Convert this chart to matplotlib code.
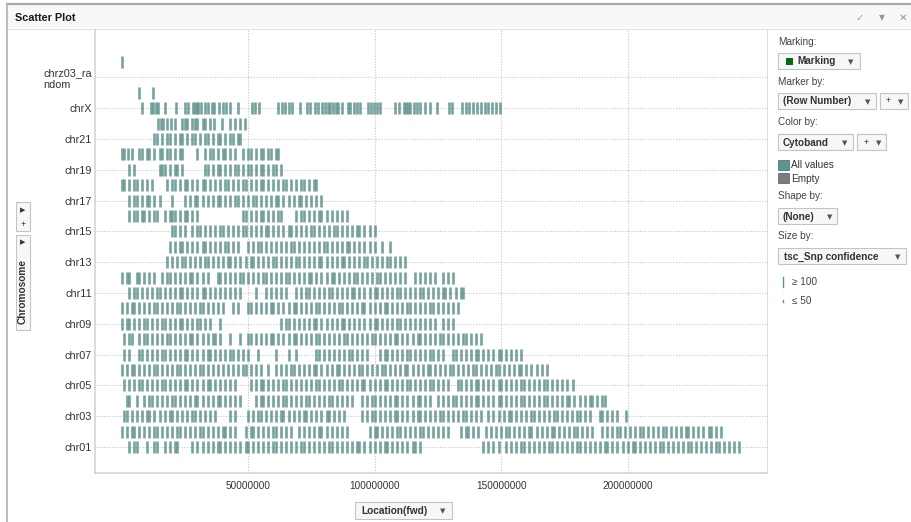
import numpy as np
import matplotlib
matplotlib.use("Agg")
import matplotlib.pyplot as plt
from matplotlib.patches import Rectangle

plt.rcParams['font.family'] = ['Liberation Sans', 'DejaVu Sans']

# chromosome categories, bottom to top
categories = ['chr01', 'chr02', 'chr03', 'chr04', 'chr05', 'chr06', 'chr07', 'chr08',
              'chr09', 'chr10', 'chr11', 'chr12', 'chr13', 'chr14', 'chr15', 'chr16',
              'chr17', 'chr18', 'chr19', 'chr20', 'chr21', 'chr22', 'chrX', 'chrY',
              'chrz03_ra\nndom', 'chrz_random']

# SNP locations per chromosome, in Mb
chr01 = [3, 5, 6, 10, 13, 14, 17, 19, 21, 22, 28, 30, 32, 34, 36, 38, 39, 41, 43, 45, 47, 49, 50, 52,
         54, 56, 58, 60, 61, 63, 65, 67, 69, 71, 72, 74, 76, 78, 80, 82, 83, 85, 87, 89, 91, 93, 94,
         96, 98, 100, 102, 104, 105, 107, 109, 111, 113, 115, 116, 118, 143, 145, 147, 149, 152,
         154, 156, 158, 159, 161, 163, 165, 167, 169, 170, 172, 174, 176, 178, 180, 181, 183, 185,
         187, 189, 191, 192, 194, 196, 198, 200, 202, 203, 205, 207, 209, 211, 213, 214, 216, 218,
         220, 222, 224, 225, 227, 229, 231, 233, 235, 236, 238, 240, 242, 244]
chr02 = [0, 2, 4, 5, 7, 9, 11, 13, 14, 16, 18, 20, 22, 23, 25, 27, 29, 31, 32, 34, 36, 38, 40, 41,
         43, 45, 49, 51, 52, 54, 56, 58, 60, 61, 63, 65, 67, 70, 72, 74, 76, 78, 79, 81, 83, 85, 87,
         89, 98, 100, 101, 103, 105, 107, 109, 110, 112, 114, 116, 118, 119, 121, 123, 125, 127,
         129, 134, 136, 137, 139, 141, 144, 146, 148, 150, 152, 153, 155, 157, 159, 161, 162, 164,
         166, 168, 170, 171, 173, 175, 177, 179, 180, 182, 184, 186, 190, 192, 194, 196, 197, 199,
         201, 203, 205, 206, 208, 210, 212, 214, 215, 217, 219, 221, 223, 224, 226, 228, 230, 232,
         233, 235, 237]
chr03 = [1, 2, 4, 6, 8, 10, 11, 13, 15, 17, 19, 20, 22, 24, 26, 28, 29, 31, 33, 35, 37, 43, 45, 50,
         52, 54, 55, 57, 59, 61, 63, 64, 66, 68, 70, 72, 73, 75, 77, 79, 81, 82, 84, 86, 88, 95, 97,
         99, 100, 102, 104, 106, 108, 109, 111, 113, 115, 117, 118, 120, 122, 124, 126, 127, 129,
         131, 133, 135, 136, 138, 140, 142, 145, 147, 149, 151, 153, 154, 156, 158, 160, 162, 163,
         165, 167, 169, 171, 172, 174, 176, 178, 180, 181, 183, 185, 189, 190, 192, 194, 196, 199.5]
chr04 = [2, 3, 6, 9, 11, 12, 14, 16, 18, 20, 21, 23, 25, 27, 29, 30, 32, 34, 36, 38, 39, 41, 43, 45,
         47, 53, 55, 56, 58, 60, 62, 64, 65, 67, 69, 71, 73, 74, 76, 78, 80, 82, 83, 85, 87, 89, 91,
         95, 97, 99, 100, 102, 104, 106, 108, 109, 111, 113, 115, 117, 118, 120, 122, 125, 127, 129,
         131, 132, 134, 136, 138, 140, 141, 143, 145, 147, 149, 150, 152, 154, 156, 158, 159, 161,
         163, 165, 167, 168, 170, 172, 174, 176, 177, 179, 181, 183, 185, 186, 188, 190, 191]
chr05 = [1, 3, 5, 7, 8, 10, 12, 14, 16, 17, 19, 21, 23, 25, 26, 28, 30, 32, 34, 35, 37, 39, 41, 43,
         45, 51, 53, 55, 56, 58, 60, 62, 64, 65, 67, 69, 71, 73, 75, 77, 78, 80, 82, 84, 86, 87, 89,
         91, 93, 95, 96, 98, 100, 102, 104, 105, 107, 109, 111, 113, 114, 116, 118, 120, 122, 123,
         125, 127, 129, 133, 134, 136, 138, 140, 141, 143, 145, 147, 149, 150, 152, 154, 156, 158,
         159, 161, 163, 165, 167, 168, 170, 172, 174, 176, 178.5]
chr06 = [0, 2, 4, 5, 7, 9, 11, 13, 14, 16, 18, 20, 22, 23, 25, 27, 29, 31, 32, 34, 36, 38, 40, 42,
         44, 46, 48, 49, 51, 53, 55, 58, 61, 63, 65, 67, 68, 70, 72, 74, 76, 77, 79, 81, 83, 85, 86,
         88, 90, 92, 94, 95, 97, 99, 101, 103, 104, 106, 108, 110, 112, 113, 115, 117, 119, 121,
         122, 124, 126, 128, 130, 131, 133, 135, 137, 139, 140, 142, 144, 146, 148, 149, 151, 153,
         155, 157, 158, 160, 162, 164, 166, 168]
chr07 = [1, 3, 7, 8, 10, 12, 14, 16, 17, 19, 21, 23, 25, 26, 28, 30, 32, 34, 35, 37, 39, 41, 43, 44,
         46, 48, 50, 54, 61, 66, 69, 77, 78, 80, 82, 84, 86, 88, 90, 91, 93, 95, 97, 102, 104, 105,
         107, 109, 111, 113, 114, 116, 118, 120, 122, 123, 125, 127, 131, 132, 134, 136, 138, 140,
         141, 143, 145, 147, 149, 150, 152, 154, 156, 158]
chr08 = [1, 3, 4, 7, 9, 10, 12, 14, 16, 18, 19, 21, 23, 25, 27, 28, 30, 32, 34, 36, 37, 39, 43, 47,
         50, 51, 53, 55, 57, 59, 60, 62, 64, 66, 68, 69, 71, 73, 75, 77, 78, 80, 82, 84, 86, 88, 89,
         91, 93, 95, 97, 99, 100, 102, 104, 106, 108, 109, 111, 113, 115, 117, 118, 120, 122, 124,
         126, 127, 129, 131, 133, 135, 136, 138, 140, 142]
chr09 = [0, 2, 3, 5, 7, 9, 10, 12, 14, 16, 17, 19, 21, 23, 24, 26, 28, 30, 31, 33, 35, 39, 63, 65,
         66, 68, 70, 72, 74, 76, 77, 79, 81, 83, 85, 87, 88, 90, 92, 94, 96, 98, 100, 101, 103, 105,
         107, 109, 110, 112, 114, 116, 118, 120, 122, 124, 127, 129, 131]
chr10 = [0, 2, 4, 5, 7, 9, 11, 13, 14, 16, 18, 20, 22, 23, 25, 27, 29, 31, 32, 34, 36, 38, 40, 44,
         46, 50, 51, 53, 55, 57, 59, 60, 62, 64, 66, 68, 69, 71, 73, 75, 77, 78, 80, 82, 84, 86, 87,
         89, 91, 93, 95, 96, 98, 100, 102, 104, 105, 107, 109, 111, 113, 114, 116, 118, 120, 122,
         123, 125, 127, 129, 131, 133]
chr11 = [3, 5, 6, 8, 10, 12, 14, 15, 17, 19, 21, 23, 24, 26, 28, 30, 32, 33, 35, 37, 39, 41, 43, 45,
         47, 53, 57, 59, 61, 63, 65, 69, 71, 73, 74, 76, 78, 80, 82, 83, 85, 87, 89, 91, 92, 94, 96,
         98, 100, 101, 103, 105, 107, 109, 110, 112, 114, 116, 118, 119, 121, 123, 125, 127, 128,
         130, 132, 134, 135]
chr12 = [0, 2, 3, 6, 7, 9, 11, 13, 16, 18, 19, 21, 23, 25, 27, 28, 30, 32, 34, 38, 39, 41, 43, 45,
         47, 48, 50, 52, 54, 56, 57, 59, 61, 63, 65, 66, 68, 70, 72, 74, 75, 77, 79, 81, 83, 84, 86,
         88, 90, 92, 93, 95, 97, 99, 101, 102, 104, 106, 108, 110, 112, 116, 118, 120, 122, 124, 127,
         129, 131]
chr13 = [18, 20, 22, 24, 25, 27, 29, 31, 33, 34, 36, 38, 40, 42, 43, 45, 47, 49, 51, 52, 54, 56, 58,
         60, 61, 63, 65, 67, 69, 70, 72, 74, 76, 78, 79, 81, 83, 85, 87, 88, 90, 92, 94, 96, 97, 99,
         101, 103, 105, 106, 108, 110, 112]
chr14 = [19, 21, 23, 24, 26, 28, 30, 32, 33, 35, 37, 39, 41, 42, 44, 46, 50, 52, 54, 55, 57, 59, 61,
         63, 65, 67, 68, 70, 72, 74, 76, 78, 80, 81, 83, 85, 87, 89, 90, 92, 94, 96, 98, 100, 103, 106]
chr15 = [20, 21, 23, 25, 28, 30, 31, 33, 35, 37, 39, 40, 42, 44, 46, 48, 49, 51, 53, 55, 57, 58, 60,
         62, 64, 66, 67, 69, 71, 73, 75, 76, 78, 80, 82, 84, 85, 87, 89, 91, 93, 94, 96, 98, 100]
chr16 = [3, 5, 6, 8, 9, 11, 13, 14, 17, 19, 20, 21, 23, 25, 26, 28, 30, 48, 49, 51, 53, 55, 56, 58,
         60, 62, 63, 69, 71, 72, 74, 76, 78, 79, 81, 83, 85, 87, 89]
chr17 = [3, 5, 6, 8, 10, 11, 13, 15, 20, 25, 27, 29, 30, 32, 34, 36, 38, 39, 41, 43, 45, 46, 48, 50,
         52, 53, 55, 57, 59, 61, 62, 64, 66, 68, 70, 71, 73, 75, 77, 79]
chr18 = [0, 1, 3, 5, 6, 8, 10, 12, 18, 20, 21, 23, 25, 26, 28, 30, 32, 33, 35, 37, 39, 41, 42, 44,
         46, 48, 49, 51, 53, 55, 56, 58, 60, 62, 64, 65, 67, 69, 71, 72, 74, 76, 77]
chr19 = [3, 5, 15, 16, 17, 19, 21, 22, 24, 33, 34, 36, 38, 39, 41, 43, 45, 46, 48, 50, 51, 53, 55,
         56, 58, 60, 61, 63]
chr20 = [0, 1, 2.4, 4, 7, 8, 10, 11, 13, 15, 16, 18, 19, 21, 23, 24, 30, 33, 35, 36, 38, 40, 41, 43,
         45, 48, 50, 51, 53, 55, 56, 58, 59, 61, 62]
chr21 = [13, 14, 16, 18, 19, 21, 23, 24, 26, 28, 29, 31, 33, 34, 36, 38, 39, 41, 43, 44, 46, 47]
chr22 = [14.5, 15.6, 16.5, 17.8, 19.5, 21.1, 24, 25, 26, 28, 29, 30, 32, 33, 35, 36.7, 39.8, 42.9,
         44.9, 46.8, 48.8]
chrX = [8.2, 11.6, 12.5, 13.6, 14.5, 17.1, 21.5, 25.1, 26.1, 28.4, 29, 29.7, 30.3, 31.4, 33, 34.3,
        35.6, 36.7, 38.5, 40.2, 41.2, 42.9, 45.9, 51.4, 52.8, 54.3, 62, 63.3, 64.6, 66, 67.3, 70.6,
        73.2, 74.5, 76.5, 77.8, 79.1, 80.5, 81.5, 82.5, 83.5, 84.6, 85.7, 87.1, 89.4, 90.4, 91.7, 93,
        94.3, 97.3, 98.5, 99.7, 101, 102.2, 108.2, 109.7, 111.5, 112.4, 113.2, 114.1, 115.4, 116.7,
        118, 120, 122, 124.6, 129.3, 130.6, 134.5, 136, 137.5, 139, 140.5, 142, 143.5, 145, 146.5,
        148, 149.7]
chrY = [7.0, 12.3]
chrz03_random = []
chrz_random = [0.3]

locations = [chr01, chr02, chr03, chr04, chr05, chr06, chr07, chr08, chr09, chr10, chr11, chr12,
             chr13, chr14, chr15, chr16, chr17, chr18, chr19, chr20, chr21, chr22, chrX, chrY,
             chrz03_random, chrz_random]

x_ticks = [50000000, 100000000, 150000000, 200000000]

teal = '#5f938e'
W, H = 912, 522

fig = plt.figure(figsize=(W / 100, H / 100), dpi=100)

# ui layer in pixel coordinates
ui = fig.add_axes([0, 0, 1, 1])
ui.set_xlim(0, W)
ui.set_ylim(H, 0)
ui.axis('off')


def box(x0, y0, x1, y1, fc='#f7f7f7', ec='#c4c4c4', lw=0.8):
    ui.add_patch(Rectangle((x0, y0), x1 - x0, y1 - y0, facecolor=fc, edgecolor=ec, linewidth=lw))


def txt(x, y, s, size=7.2, color='#444444', **kw):
    ui.text(x, y, s, fontsize=size, color=color, va='center', **kw)


# frame and title bar
ui.plot([7, W], [4, 4], color='#a8a8a8', lw=1.6)
ui.plot([7, 7], [4, H], color='#b0b0b0', lw=1.2)
box(8, 5, W, 28, fc='#f8f8f8', ec='none')
ui.plot([8, W], [28.5, 28.5], color='#e2e2e2', lw=0.8)
txt(15, 18, 'Scatter Plot', size=7.8, color='#1a1a1a', fontweight='bold')
txt(856, 18, '\u2713', size=7, color='#999999', family='DejaVu Sans')
txt(879, 18, '\u25bc', size=5.5, color='#999999', family='DejaVu Sans')
txt(899, 18, '\u2715', size=7.5, color='#999999', family='DejaVu Sans')

arrow = dict(size=5, color='#555555', family='DejaVu Sans', ha='center')

# left axis selector
box(16, 202, 30, 231)
txt(23, 210, '\u25b6', size=5, color='#333333', family='DejaVu Sans', ha='center')
txt(23, 224, '+', size=6.5, color='#333333', ha='center')
box(16, 235, 30, 330)
txt(23, 242, '\u25b6', size=5, color='#333333', family='DejaVu Sans', ha='center')
ui.text(23, 291, 'Chromosome', fontsize=7.3, fontweight='bold', color='#333333',
        rotation=90, ha='center', va='center')

# bottom axis selector
box(355, 502, 452, 519)
txt(361, 510.5, 'Location(fwd)', size=7.3, color='#333333', fontweight='bold')
txt(443, 511, '\u25bc', **arrow)

# legend panel
txt(778, 42, 'Marking:')
box(778, 53, 860, 69)
ui.add_patch(Rectangle((786, 57.5), 7, 7, facecolor='#0b6a0b', edgecolor='none'))
txt(797, 61.5, 'Marking', size=7.2, color='#333333', fontweight='bold')
txt(851, 62, '\u25bc', **arrow)

txt(778, 82, 'Marker by:')
box(778, 93, 876, 109)
txt(783, 101.5, '(Row Number)', size=7.2, color='#333333', fontweight='bold')
txt(868, 102, '\u25bc', **arrow)
box(880, 93, 908, 109)
txt(888, 101, '+', size=6.5, color='#333333', ha='center')
txt(901, 102, '\u25bc', **arrow)

txt(778, 122, 'Color by:')
box(778, 134, 853, 150)
txt(783, 142.5, 'Cytoband', size=7.2, color='#333333', fontweight='bold')
txt(845, 143, '\u25bc', **arrow)
box(857, 134, 886, 150)
txt(866, 142, '+', size=6.5, color='#333333', ha='center')
txt(879, 143, '\u25bc', **arrow)

ui.add_patch(Rectangle((778, 160), 11, 10, facecolor=teal, edgecolor='#4d7a76', linewidth=0.6))
txt(791, 165.5, 'All values', color='#333333')
ui.add_patch(Rectangle((778, 173), 11, 10, facecolor='#7d7d7d', edgecolor='#666666', linewidth=0.6))
txt(791, 179, 'Empty', color='#333333')

txt(778, 196, 'Shape by:')
box(778, 208, 837, 224)
txt(783, 216.5, '(None)', size=7.2, color='#333333', fontweight='bold')
txt(830, 217, '\u25bc', **arrow)

txt(778, 236, 'Size by:')
box(778, 248, 906, 264)
txt(784, 256.5, 'tsc_Snp confidence', size=7.2, color='#333333', fontweight='bold')
txt(898, 257, '\u25bc', **arrow)

ui.plot([783, 783], [277, 287], color=teal, lw=1.0)
txt(792, 282, '\u2265 100', color='#444444')
ui.plot([783, 783], [300, 302], color=teal, lw=1.0)
txt(792, 301, '\u2264 50', color='#444444')

# scatter plot area
ax = fig.add_axes([95 / W, (H - 473) / H, 672 / W, 443 / H])
ax.set_facecolor('none')
for i, vals in enumerate(locations):
    if len(vals) == 0:
        continue
    xs = np.array(vals) * 1e6
    ax.plot(xs, np.full(len(xs), i), ls='none', marker='|', ms=8, mew=1.9,
            color=teal, alpha=0.85)

ax.set_xlim(-10.5e6, 255.1e6)
ax.set_ylim(-1.69, 27.08)

label_idx = list(range(0, len(categories) - 1, 2))
ax.set_yticks(label_idx)
ax.set_yticklabels([categories[i] for i in label_idx], fontsize=7.8, color='#333333',
                   multialignment='left')
ax.set_xticks(x_ticks)
ax.set_xticklabels([str(v) for v in x_ticks], fontsize=7.2, color='#333333')
ax.tick_params(length=0)
ax.tick_params(axis='y', pad=2)
ax.tick_params(axis='x', pad=6)
ax.grid(True, ls=(0, (1, 1.5)), color='#c4c4c4', lw=0.8)
ax.set_axisbelow(True)
ax.spines['top'].set_visible(False)
ax.spines['left'].set_color('#d4d4d4')
ax.spines['bottom'].set_color('#d4d4d4')
ax.spines['right'].set_color('#dddddd')
ax.spines['left'].set_linewidth(1.2)
ax.spines['bottom'].set_linewidth(1.2)

fig.savefig('out.png', dpi=100)
